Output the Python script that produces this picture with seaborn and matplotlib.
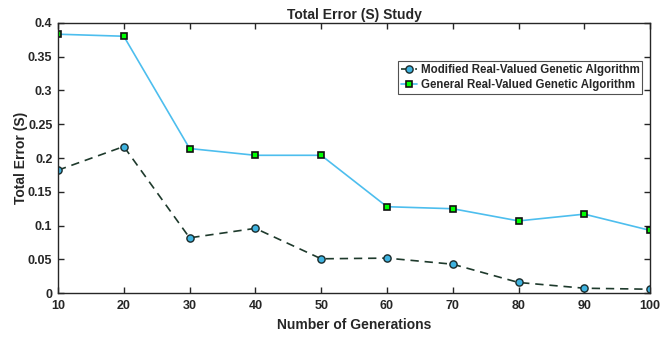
import matplotlib
matplotlib.use("Agg")
import matplotlib.pyplot as plt
import seaborn as sns
import pandas as pd

generations = [10, 20, 30, 40, 50, 60, 70, 80, 90, 100]
modified_rvga = [0.182, 0.217, 0.082, 0.096, 0.051, 0.052, 0.043, 0.016, 0.0075, 0.006]
general_rvga = [0.383, 0.380, 0.214, 0.204, 0.204, 0.128, 0.125, 0.107, 0.117, 0.093]
series_names = ["Modified Real-Valued Genetic Algorithm", "General Real-Valued Genetic Algorithm"]
x_ticks = [10, 20, 30, 40, 50, 60, 70, 80, 90, 100]
y_ticks = [0, 0.05, 0.1, 0.15, 0.2, 0.25, 0.3, 0.35, 0.4]
y_tick_labels = ["0", "0.05", "0.1", "0.15", "0.2", "0.25", "0.3", "0.35", "0.4"]

df = pd.DataFrame({
    "gen": generations * 2,
    "err": modified_rvga + general_rvga,
    "series": [series_names[0]] * len(generations) + [series_names[1]] * len(generations),
})

sns.set_style("ticks")
plt.rcParams["font.family"] = ["Liberation Sans", "DejaVu Sans"]
plt.rcParams["font.weight"] = "bold"

fig = plt.figure(figsize=(6.6, 3.37), dpi=100)
ax = fig.add_axes([0.0879, 0.1297, 0.8971, 0.8029])

sns.lineplot(data=df[df.series == series_names[0]], x="gen", y="err", ax=ax,
             color="#1e3a2c", linestyle=(0, (5, 3.5)), linewidth=1.2,
             marker="o", markersize=5.2, markerfacecolor="#3fb3e0",
             markeredgecolor="#1a2a2a", markeredgewidth=1.0,
             label=series_names[0])
sns.lineplot(data=df[df.series == series_names[1]], x="gen", y="err", ax=ax,
             color="#4dbeee", linewidth=1.2,
             marker="s", markersize=4.3, markerfacecolor="#00ff00",
             markeredgecolor="#111111", markeredgewidth=1.2,
             label=series_names[1])

ax.set_xlim(10, 100)
ax.set_ylim(0, 0.4)
ax.set_xticks(x_ticks)
ax.set_yticks(y_ticks)
ax.set_yticklabels(y_tick_labels)
ax.tick_params(direction="in", length=4, width=1.0, colors="#262626",
               labelsize=9, top=True, right=True)
ax.tick_params(axis="x", pad=5)
ax.tick_params(axis="y", pad=4)
for lab in ax.get_xticklabels() + ax.get_yticklabels():
    lab.set_fontweight("bold")
    lab.set_color("#262626")
for s in ax.spines.values():
    s.set_color("#262626")
    s.set_linewidth(1.0)
    s.set_visible(True)

ax.set_xlabel("Number of Generations", fontsize=10, fontweight="bold", labelpad=4)
ax.set_ylabel("Total Error (S)", fontsize=10, fontweight="bold", labelpad=0)
ax.set_title("Total Error (S) Study", fontsize=10, fontweight="bold", pad=3)

leg = ax.legend(loc="upper right", bbox_to_anchor=(0.987, 0.857), borderaxespad=0,
                fontsize=8.3, frameon=True, fancybox=False, handlelength=1.4,
                handletextpad=0.3, borderpad=0.25, labelspacing=0.25)
leg.get_frame().set_edgecolor("#262626")
leg.get_frame().set_linewidth(0.8)
for t in leg.get_texts():
    t.set_fontweight("bold")

fig.savefig("out.png", dpi=100)
